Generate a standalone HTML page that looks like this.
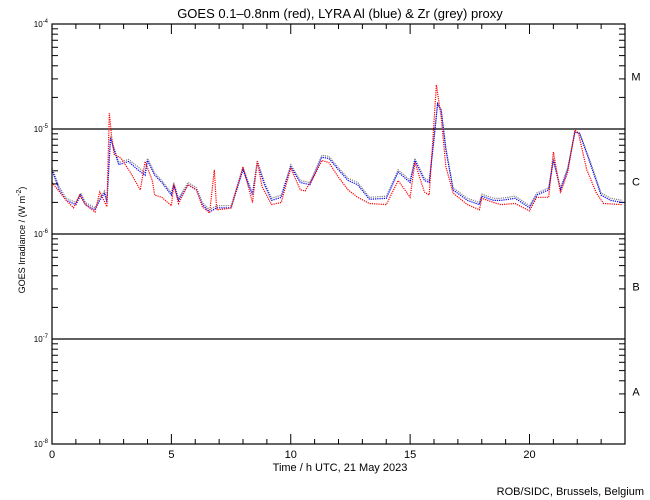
<!DOCTYPE html>
<html><head><meta charset="utf-8"><style>
body{margin:0;background:#fff;}
svg{display:block;font-family:"Liberation Sans",sans-serif;}
</style></head><body>
<svg id="chart" width="650" height="500">
<text x="340" y="18" text-anchor="middle" font-size="13">GOES 0.1–0.8nm (red), LYRA Al (blue) &amp; Zr (grey) proxy</text>
<text x="340" y="471" text-anchor="middle" font-size="11">Time / h UTC, 21 May 2023</text>
<text transform="translate(25,240) rotate(-90)" text-anchor="middle" font-size="9">GOES Irradiance / (W m<tspan dy="-4" font-size="7">-2</tspan><tspan dy="4">)</tspan></text>
<text x="644" y="495" text-anchor="end" font-size="11">ROB/SIDC, Brussels, Belgium</text>
<g id="axes"></g>
<g id="series"></g>
<rect x="52" y="24" width="573" height="420" fill="none" stroke="#000" stroke-width="1.2"/>
</svg>
<script>
const xTicks=[0,5,10,15,20];
const yDecades=[-8,-7,-6,-5,-4];
const classLabels=["A","B","C","M"];
const redHours=[0,0.6,0.9,1.16,1.4,1.8,2.0,2.3,2.4,2.5,2.6,2.9,3.3,3.7,3.9,4.2,4.3,4.6,5.0,5.1,5.3,5.7,6.05,6.3,6.6,6.8,6.9,7.3,7.5,8.0,8.4,8.6,8.8,9.2,9.6,10.0,10.4,10.6,11.0,11.3,11.6,12.0,12.4,12.8,13.3,14.0,14.5,15.0,15.2,15.6,15.8,16.1,16.3,16.5,16.8,17.4,17.9,18.0,18.5,18.8,19.4,20.0,20.3,20.8,21.0,21.3,21.6,21.9,22.05,22.4,22.8,23.1,23.9];
const redLog=[-5.51,-5.68,-5.75,-5.63,-5.72,-5.79,-5.60,-5.74,-4.85,-5.08,-5.24,-5.28,-5.42,-5.58,-5.31,-5.49,-5.63,-5.65,-5.73,-5.53,-5.71,-5.53,-5.58,-5.74,-5.80,-5.39,-5.77,-5.76,-5.75,-5.36,-5.70,-5.31,-5.55,-5.72,-5.70,-5.37,-5.58,-5.59,-5.44,-5.30,-5.32,-5.46,-5.58,-5.65,-5.71,-5.72,-5.49,-5.65,-5.32,-5.60,-5.63,-4.58,-4.89,-5.36,-5.61,-5.72,-5.77,-5.66,-5.70,-5.72,-5.71,-5.78,-5.65,-5.65,-5.22,-5.61,-5.41,-5.01,-5.04,-5.39,-5.61,-5.71,-5.72];
const blueHours=[0,0.3,0.6,1.0,1.2,1.4,1.8,2.0,2.2,2.3,2.45,2.6,2.8,3.2,3.6,3.9,4.0,4.3,4.6,5.0,5.1,5.3,5.7,6.05,6.3,6.6,6.9,7.5,8.0,8.4,8.6,8.9,9.2,9.6,10.0,10.4,10.8,11.3,11.6,12.0,12.4,12.8,13.3,14.0,14.5,15.0,15.2,15.6,15.8,16.0,16.15,16.3,16.5,16.8,17.4,17.9,18.0,18.5,18.8,19.4,20.0,20.3,20.8,21.0,21.3,21.6,21.9,22.1,22.5,23.0,23.4,23.9];
const blueLog=[-5.39,-5.58,-5.68,-5.72,-5.63,-5.72,-5.77,-5.68,-5.61,-5.70,-5.09,-5.20,-5.34,-5.31,-5.39,-5.44,-5.30,-5.44,-5.51,-5.63,-5.53,-5.68,-5.53,-5.58,-5.72,-5.79,-5.75,-5.75,-5.39,-5.63,-5.32,-5.53,-5.68,-5.65,-5.36,-5.51,-5.53,-5.27,-5.28,-5.39,-5.49,-5.53,-5.67,-5.66,-5.41,-5.51,-5.30,-5.49,-5.51,-5.10,-4.76,-4.82,-5.20,-5.58,-5.68,-5.72,-5.64,-5.68,-5.68,-5.66,-5.75,-5.63,-5.58,-5.30,-5.58,-5.39,-5.03,-5.04,-5.30,-5.63,-5.68,-5.70];
const greyLog=[-5.37,-5.55,-5.66,-5.70,-5.61,-5.70,-5.75,-5.66,-5.59,-5.68,-5.07,-5.18,-5.32,-5.29,-5.36,-5.42,-5.28,-5.42,-5.49,-5.61,-5.51,-5.66,-5.51,-5.56,-5.70,-5.77,-5.73,-5.73,-5.37,-5.61,-5.30,-5.51,-5.66,-5.63,-5.34,-5.49,-5.51,-5.25,-5.26,-5.37,-5.47,-5.51,-5.65,-5.64,-5.39,-5.49,-5.28,-5.47,-5.49,-5.08,-4.76,-4.82,-5.18,-5.56,-5.66,-5.70,-5.62,-5.66,-5.66,-5.64,-5.73,-5.61,-5.56,-5.28,-5.56,-5.37,-5.03,-5.04,-5.28,-5.61,-5.66,-5.68];

const X0=52,X1=625,Y0=444,Y1=24;
const xs=h=>X0+(X1-X0)*h/24;
const ys=l=>Y0-(l+8)*(Y0-Y1)/4;
const NS="http://www.w3.org/2000/svg";
const axes=document.getElementById('axes'),ser=document.getElementById('series');
function mk(tag,attrs,parent){const e=document.createElementNS(NS,tag);for(const k in attrs)e.setAttribute(k,attrs[k]);parent.appendChild(e);return e;}
for(let h=1;h<24;h++){
  const major=h%5===0,len=major?10:5,x=xs(h);
  const t1=mk('line',{x1:x,x2:x,y1:Y0,y2:Y0-len,stroke:'#000'},axes);
  
  
  const t2=mk('line',{x1:x,x2:x,y1:Y1,y2:Y1+len,stroke:'#000'},axes);
  
  
}
xTicks.forEach(h=>{
  const t=mk('text',{x:xs(h),y:458,'text-anchor':'middle','font-size':'11'},axes);
  t.textContent=h;
  
  
});
yDecades.forEach((d,i)=>{
  const y=ys(d);
  const lb=mk('text',{x:48,y:y+3,'text-anchor':'end','font-size':'8'},axes);
  lb.innerHTML='10<tspan dy="-4" font-size="6">'+d+'</tspan>';
  
  
  if(d>-8&&d<-4){
    const gl=mk('line',{x1:X0,x2:X1,y1:y,y2:y,stroke:'#000','stroke-width':1.2},axes);
    
    
  }
  if(i<4){
    for(let m=2;m<=9;m++){
      const yy=ys(d+Math.log10(m));
      const a=mk('line',{x1:X0,x2:X0+6,y1:yy,y2:yy,stroke:'#000'},axes);
      
      
      const b=mk('line',{x1:X1,x2:X1-6,y1:yy,y2:yy,stroke:'#000'},axes);
      
      
    }
    const c=mk('text',{x:636,y:ys(d+0.5)+4,'text-anchor':'middle','font-size':'11'},axes);
    c.textContent=classLabels[i];
    
    
  }
});
function line(hours,vals,color,name){
  const pts=hours.map((h,i)=>xs(h).toFixed(1)+','+ys(vals[i]).toFixed(1)).join(' ');
  const p=mk('polyline',{points:pts,fill:'none',stroke:color,'stroke-width':1.2,'stroke-dasharray':'1.2 1'},ser);
  
  
}
line(blueHours,greyLog,'#808080','lyra-zr-series');
line(blueHours,blueLog,'#0000ff','lyra-al-series');
line(redHours,redLog,'#ff0000','goes-series');
</script>
</body></html>
